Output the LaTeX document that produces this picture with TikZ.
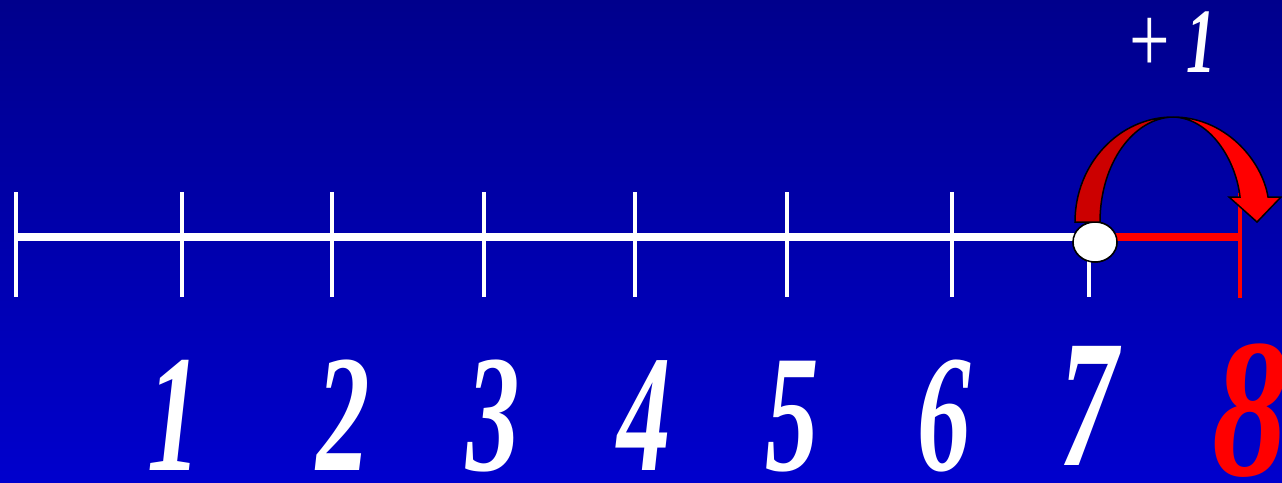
\documentclass[tikz,border=0pt]{standalone}
\usepackage{fontspec}
\setmainfont{Liberation Serif}
\usepackage{graphicx}
\usepackage{tikz}
\usetikzlibrary{arrows.meta, positioning, calc, shapes.geometric}
\definecolor{bgtop}{RGB}{0,0,140}
\definecolor{bgbot}{RGB}{0,0,205}
\definecolor{jumpred}{RGB}{255,0,0}
\definecolor{jumpdark}{RGB}{204,0,0}
\newcommand{\numtext}[3][0.64]{\scalebox{#1}[1]{\fontsize{#2}{#2}\selectfont\bfseries\itshape #3}}
\tikzset{
  axisline/.style={draw=white, line width=8pt},
  tickmark/.style={draw=white, line width=4pt},
  redline/.style={draw=jumpred, line width=8pt},
  redtick/.style={draw=jumpred, line width=4pt},
  dot/.style={ellipse, draw=black, fill=white, line width=1.5pt,
              minimum width=44pt, minimum height=40pt, inner sep=0pt},
  num/.style={text=white, inner sep=0pt, anchor=base, text depth=0pt},
  jump/.style={draw=black, line width=1.5pt, line join=miter},
}

\begin{document}
\begin{tikzpicture}[x=1pt, y=-1pt]
  \fill[top color=bgtop, bottom color=bgbot] (0,0) rectangle (1282,482);
  \useasboundingbox (0,0) rectangle (1282,482);
  \clip (0,0) rectangle (1282,482);

  % number line
  \coordinate (t0) at (16,237);
  \coordinate (t8) at (1240,237);
  \node[dot] (now) at (1095,242) {};
  \foreach \x in {16,182,332,484,635,787,952}
    \draw[tickmark] (\x,192) -- (\x,297);
  \draw[tickmark] (1089,242) -- (1089,297);
  \draw[axisline] (t0) -- (now.center |- t0);
  \draw[redline] (now.center |- t8) -- (t8);
  \draw[redtick] (1240,193) -- (1240,298);
  \node[dot] at (now) {};

  % jump arrow
  \filldraw[jump, fill=jumpred] (1173,117)
    .. controls (1225,117) and (1262,160) .. (1268,197)
    -- (1281,197) -- (1257,222) -- (1229,197) -- (1240,197)
    .. controls (1236,160) and (1210,118) .. (1173,117) -- cycle;
  \filldraw[jump, fill=jumpdark] (1075,222)
    .. controls (1075,164) and (1119,117) .. (1173,117)
    .. controls (1133,118) and (1100,164) .. (1100,222) -- cycle;
  \node[num] (plus) at (1173,72)
    {\scalebox{0.75}[1]{\fontsize{96}{96}\selectfont +}\hspace{16pt}\numtext{92}{1}};

  % labels
  \node[num] (n1) at (174,470) {\numtext{167}{1}};
  \node[num] (n2) at (343,470) {\numtext{167}{2}};
  \node[num] (n3) at (493,470) {\numtext{167}{3}};
  \node[num] (n4) at (644,470) {\numtext{167}{4}};
  \node[num] (n5) at (792,470) {\numtext{167}{5}};
  \node[num] (n6) at (944,470) {\numtext{167}{6}};
  \node[num] (n7) at (1089,465) {\numtext{182}{7}};
  \node[num, text=jumpred] (n8) at (1250,475) {\numtext[0.76]{198}{8}};
\end{tikzpicture}
\end{document}
